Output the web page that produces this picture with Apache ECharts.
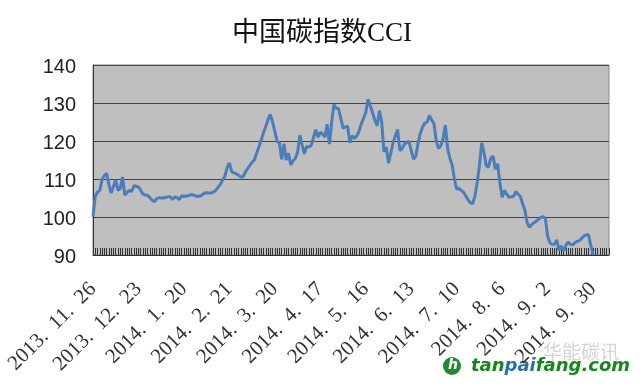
<!DOCTYPE html>
<html>
<head>
<meta charset="utf-8">
<style>
  html, body { margin: 0; padding: 0; background: #fff; }
  #chart { width: 640px; height: 386px; }
</style>
<script src="https://cdn.jsdelivr.net/npm/echarts@6/dist/echarts.min.js"></script>
</head>
<body>
<div id="chart"></div>
<script>
const tickLabels = ['2013.  11.  26', '2013.  12.  23', '2014.  1.  20', '2014.  2.  21', '2014.  3.  20', '2014.  4.  17',
  '2014.  5.  16', '2014.  6.  13', '2014.  7.  10', '2014.  8.  6', '2014.  9.  2', '2014.  9.  30'];
const labelStep = 20;
const slotCount = 228;

const cciValues = [
  100.1, 105.5, 106.6, 107, 109.8, 110.9, 111.5, 108.5, 106.3, 108,
  109.8, 107, 107.6, 110.5, 105.8, 106.5, 107, 106.7, 108.2, 108.1,
  107.9, 107, 106, 105.8, 105.7, 105.1, 104.4, 104, 104.8, 105.1,
  105, 105, 105.2, 105.3, 105.3, 104.6, 105.3, 105.1, 104.6, 105.6,
  105.4, 105.5, 105.6, 105.9, 105.8, 105.6, 105.4, 105.5, 105.8, 106.3,
  106.4, 106.3, 106.3, 106.6, 107, 107.8, 108.6, 109.7, 110.7, 113,
  114.2, 112, 111.6, 111.4, 111, 110.5, 110.6, 111.8, 112.7, 113.6,
  114.4, 115, 116.8, 118.5, 120.2, 122.2, 123.8, 125.6, 127, 125,
  122.5, 119.9, 119.5, 115.2, 119.3, 115, 116.8, 113.7, 114.8, 115.4,
  117, 121.5, 119, 116.6, 118.6, 118.4, 118.8, 121, 123, 121,
  122.3, 121.8, 121, 124.4, 119.2, 125, 129.6, 128.6, 128.5, 126,
  123.4, 123.7, 123.9, 119.5, 121.4, 120.7, 121.3, 122.5, 124.5, 126,
  127.5, 131, 129.3, 127.4, 125.5, 124, 128, 125, 117.2, 118.4,
  114.2, 116.8, 119.5, 121.3, 123, 117.5, 118, 119.2, 119.6, 119.9,
  117.5, 115.2, 116, 119.5, 122, 123.7, 124.7, 125, 126.7, 125.5,
  124.6, 120, 118, 118.8, 120.5, 124.2, 118, 115.5, 113.6, 110,
  107.3, 107.5, 107, 106.5, 105.5, 104.5, 103.7, 103.5, 105.5, 109,
  113.5, 119.5, 117, 113.5, 113.1, 115.5, 116, 112.6, 114, 109,
  105.2, 107, 106, 105.2, 105.3, 105.4, 106.7, 106, 105.4, 103.5,
  101.8, 98.5, 97.3, 98, 98.5, 98.9, 99.4, 99.9, 100.1, 99.6,
  95, 93.2, 92.8, 92.8, 94, 91.2, 92.4, 91, 92.5, 93.4,
  92.8, 92.7, 93.2, 93.6, 93.8, 94.4, 95, 95.3, 95.3, 92.5,
  90
];

const categories = [];
for (let i = 0; i < slotCount; i++) {
  categories.push(i % labelStep === 0 && tickLabels[i / labelStep] ? tickLabels[i / labelStep] : '');
}

const chart = echarts.init(document.getElementById('chart'));
chart.setOption({
  animation: false,
  backgroundColor: '#fff',
  title: {
    text: '中国碳指数CCI',
    left: 317,
    top: 15,
    textAlign: 'center',
    textStyle: {
      fontFamily: 'Liberation Serif, Noto Sans CJK SC',
      fontSize: 27,
      fontWeight: 'normal',
      color: '#111'
    }
  },
  grid: {
    left: 93,
    right: 31,
    top: 65,
    bottom: 131,
    outerBoundsMode: 'none',
    show: true,
    backgroundColor: '#bfbfbf',
    borderColor: '#8a8a8a',
    borderWidth: 1
  },
  xAxis: {
    type: 'category',
    data: categories,
    boundaryGap: false,
    axisLine: { lineStyle: { color: '#333', width: 1 } },
    axisTick: { inside: true, length: 7, interval: 0, lineStyle: { color: '#333', width: 1 } },
    axisLabel: {
      interval: labelStep - 1,
      rotate: 45,
      margin: 31,
      fontFamily: 'Liberation Serif',
      fontSize: 21,
      color: '#333',
      hideOverlap: false
    },
    splitLine: { show: false }
  },
  yAxis: {
    type: 'value',
    min: 90,
    max: 140,
    interval: 10,
    axisLine: { show: true, lineStyle: { color: '#333', width: 1 } },
    axisTick: { show: false },
    axisLabel: {
      margin: 17,
      formatter: '{a|{value}}',
      rich: {
        a: {
          fontFamily: 'Liberation Sans',
          fontSize: 20,
          color: '#222',
          padding: [5, 0, 0, 0]
        }
      }
    },
    splitLine: { lineStyle: { color: '#444', width: 1 } }
  },
  series: [
    {
      type: 'line',
      data: cciValues,
      showSymbol: false,
      smooth: false,
      lineStyle: { color: '#4a7ebb', width: 3 },
      itemStyle: { color: '#4a7ebb' }
    }
  ],
  graphic: [
    {
      type: 'text',
      left: 543,
      top: 342,
      style: { text: '华能碳讯', font: '19px "Noto Sans CJK SC"', fill: '#d4d4d4' }
    },
    {
      type: 'circle',
      shape: { cx: 452, cy: 366, r: 9 },
      style: { fill: '#1f8a2e' }
    },
    {
      type: 'text',
      left: 448,
      top: 358,
      style: { text: 'h', font: 'italic bold 14px "DejaVu Sans"', fill: '#fff' }
    },
    {
      type: 'text',
      left: 471,
      top: 357,
      style: {
        rich: {
          g: { font: 'italic bold 18px "DejaVu Sans"', fill: '#15871c' },
          b: { font: 'italic bold 18px "DejaVu Sans"', fill: '#2a6fa8' }
        },
        text: '{g|tan}{b|pai}{g|fang.com}'
      }
    }
  ]
});
</script>
</body>
</html>
